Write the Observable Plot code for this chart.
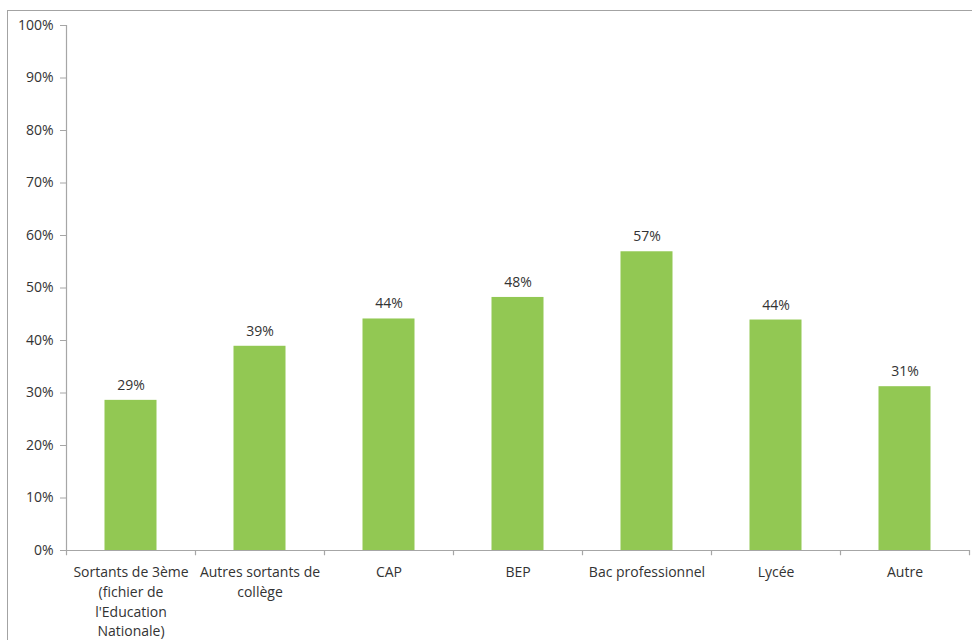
<!DOCTYPE html>
<html>
<head>
<meta charset="utf-8">
<script src="https://cdn.jsdelivr.net/npm/d3@7"></script>
<script src="https://cdn.jsdelivr.net/npm/@observablehq/plot@0.6"></script>
<style>
  html, body { margin: 0; padding: 0; background: #fff; }
  #wrap { position: relative; width: 972px; height: 640px; overflow: hidden; }
  #frame { position: absolute; left: 7px; top: 10px; width: 990px; height: 700px; border: 1.5px solid #a3a3a3; pointer-events: none; }
  #chart { position: absolute; left: 0; top: 0; }
</style>
</head>
<body>
<div id="wrap"><div id="chart"></div><div id="frame"></div></div>
<script>
const categories = [
  "Sortants de 3ème (fichier de l'Education Nationale)",
  "Autres sortants de collège",
  "CAP",
  "BEP",
  "Bac professionnel",
  "Lycée",
  "Autre"
];
const tickLabels = [
  "Sortants de 3ème\n(fichier de\nl'Education\nNationale)",
  "Autres sortants de\ncollège",
  "CAP",
  "BEP",
  "Bac professionnel",
  "Lycée",
  "Autre"
];
const values = [28.6, 38.9, 44.1, 48.2, 56.9, 43.9, 31.2];
const yTicks = [0, 10, 20, 30, 40, 50, 60, 70, 80, 90, 100];

const data = categories.map((c, i) => ({cat: c, label: tickLabels[i], value: values[i]}));

const W = 972, H = 640, mL = 66, mR = 3, mT = 25, mB = 90;
const bw = (W - mL - mR) / categories.length;
const barW = 52;
const inset = (bw - barW) / 2;
const axisColor = "#a6a6a6";
const textColor = "#333333";

const chart = Plot.plot({
  width: W,
  height: H,
  marginLeft: mL,
  marginRight: mR,
  marginTop: mT,
  marginBottom: mB,
  style: {fontFamily: "'Open Sans', sans-serif", fontSize: "14px", color: textColor, background: "transparent"},
  x: {type: "band", domain: categories, paddingInner: 0, paddingOuter: 0},
  y: {domain: [0, 100]},
  marks: [
    Plot.barY(data, {x: "cat", y: "value", fill: "#92c853", insetLeft: inset, insetRight: inset}),
    Plot.ruleY([0], {stroke: axisColor, strokeWidth: 1.2}),
    Plot.ruleX([categories[0]], {dx: -bw / 2, y1: 0, y2: 100, stroke: axisColor, strokeWidth: 1.2}),
    Plot.ruleX(categories, {x: d => d, dx: -bw / 2, y1: 0, y2: -1, stroke: axisColor, strokeWidth: 1.2}),
    Plot.ruleX([categories[categories.length - 1]], {dx: bw / 2, y1: 0, y2: -1, stroke: axisColor, strokeWidth: 1.2}),
    Plot.axisY({ticks: yTicks, tickFormat: d => d + "%", tickSize: 6, tickPadding: 7, stroke: axisColor, fill: textColor, label: null, fontSize: 14}),
    Plot.axisX({
      tickSize: 0, tickPadding: 13, label: null, fill: textColor, fontSize: 14,
      tickFormat: d => tickLabels[categories.indexOf(d)], lineHeight: 1.4, lineWidth: 100
    }),
    Plot.text(data, {x: "cat", y: "value", text: d => Math.round(d.value) + "%", dy: -15, fill: textColor, fontSize: 14})
  ]
});
document.getElementById("chart").appendChild(chart);
</script>
</body>
</html>
